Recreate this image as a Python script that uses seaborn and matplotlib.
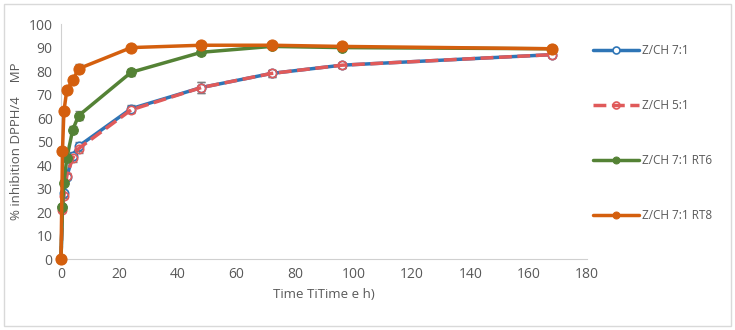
import numpy as np
import pandas as pd
import seaborn as sns
import matplotlib.pyplot as plt
from matplotlib.patches import Rectangle

sns.set_style('white')
plt.rcParams['font.family'] = ['Open Sans', 'DejaVu Sans']

time = [0, 0.5, 1, 2, 4, 6, 24, 48, 72, 96, 168]

zch71 = [0, 22, 28, 35, 44, 48, 64, 73, 79, 82.5, 87]
zch51 = [0, 21, 27, 35.5, 43, 47, 63.5, 73, 79, 82.5, 87]
rt6 = [0, 22, 32.5, 43, 55, 61, 79.5, 88, 90.5, 90, 89.5]
rt8 = [0, 46, 63, 72, 76, 81, 90, 91, 91, 90.5, 89.5]

err71 = [0, 1, 1, 1, 1.5, 2, 1.5, 2.5, 1.5, 1, 0.8]
err51 = [0, 1, 1, 1, 1.5, 2, 1.5, 2.5, 1.5, 1, 0.8]
err_rt6 = [0, 0.8, 0.8, 1, 1.5, 2, 1.5, 1, 0.8, 0.5, 0.5]
err_rt8 = [0, 0.5, 0.5, 0.5, 1, 2, 0.8, 0.5, 0.5, 0.5, 0.5]

labels = ['Z/CH 7:1', 'Z/CH 5:1', 'Z/CH 7:1 RT6', 'Z/CH 7:1 RT8']
colors = ['#2E75B6', '#E05A5A', '#548235', '#D45F0E']

fig = plt.figure(figsize=(7.35, 3.3), dpi=100)
ax = fig.add_axes([0.083, 0.215, 0.716, 0.712])
fig.patches.append(Rectangle((0.006, 0.012), 0.988, 0.976, transform=fig.transFigure,
                             fill=False, edgecolor='#d9d9d9', lw=1))

series = [(zch71, err71), (zch51, err51), (rt6, err_rt6), (rt8, err_rt8)]
for i, (vals, err) in enumerate(series):
    ax.errorbar(time, vals, yerr=err, fmt='none', ecolor='#7f7f7f',
                elinewidth=1, capsize=3, capthick=1, zorder=2 + i)

sns.lineplot(x=time, y=zch71, ax=ax, color=colors[0], lw=2.5, marker='o',
             markersize=6, markerfacecolor='white', markeredgecolor=colors[0],
             markeredgewidth=1.2, label=labels[0], zorder=3)
sns.lineplot(x=time, y=zch51, ax=ax, color=colors[1], lw=2.5, linestyle='--',
             marker='o', markersize=6, markerfacecolor='none',
             markeredgecolor=colors[1], markeredgewidth=1.2, label=labels[1], zorder=4)
sns.lineplot(x=time, y=rt6, ax=ax, color=colors[2], lw=2.5, marker='o',
             markersize=7, markeredgecolor=colors[2], label=labels[2], zorder=5)
sns.lineplot(x=time, y=rt8, ax=ax, color=colors[3], lw=2.5, marker='o',
             markersize=8, markeredgecolor=colors[3], label=labels[3], zorder=6)
for ln in ax.lines:
    ln.set_clip_on(False)

ax.set_xlim(0, 180)
ax.set_ylim(0, 100)
ax.set_xticks(range(0, 181, 20))
ax.set_yticks(range(0, 101, 10))
ax.tick_params(colors='#595959', labelsize=10, length=0, pad=6)
for side in ['top', 'right']:
    ax.spines[side].set_visible(False)
for side in ['left', 'bottom']:
    ax.spines[side].set_color('#d0d0d0')
ax.set_xlabel('Time TiTime e h)', color='#595959', fontsize=9.5)
ax.set_ylabel('% inhibition DPPH/4    MP', color='#595959', fontsize=9.5)

leg = ax.legend(loc='upper left', bbox_to_anchor=(0.99, 0.96), frameon=False,
                labelspacing=3.55, handlelength=3.9, handletextpad=0.3,
                fontsize=8.5, labelcolor='#595959')
for h in leg.legend_handles:
    h.set_markersize(5)

plt.savefig('out.png', dpi=100)
plt.close()
